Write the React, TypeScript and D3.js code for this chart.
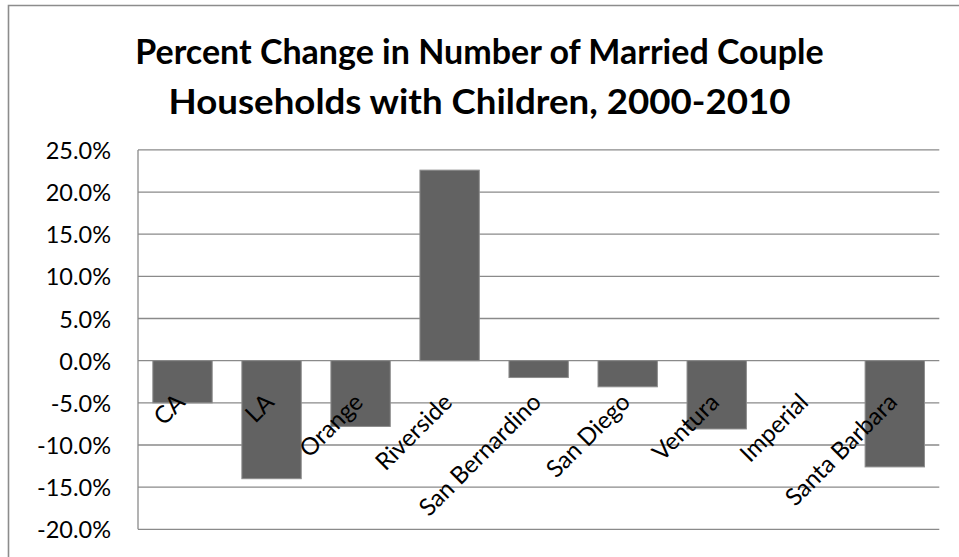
import React from "react";
import * as d3 from "d3";

const categories = ["CA", "LA", "Orange", "Riverside", "San Bernardino", "San Diego", "Ventura", "Imperial", "Santa Barbara"];
const values = [-5.0, -14.0, -7.8, 22.6, -2.0, -3.1, -8.1, 0, -12.6];
const yTicks = [-20, -15, -10, -5, 0, 5, 10, 15, 20, 25];
const titleLines = ["Percent Change in Number of Married Couple", "Households with Children, 2000-2010"];

const W = 959;
const H = 557;
const FONT = "Lato, 'Open Sans', sans-serif";

export default function App() {
  const x = d3.scaleBand<string>().domain(categories).range([138, 939.3]).paddingInner(1 / 3).paddingOuter(1 / 6);
  const y = d3.scaleLinear().domain([-20, 25]).range([529.3, 149.9]);
  const grid = "#8a8a8a";
  const fmt = (v: number) => d3.format(".1f")(v).replace("\u2212", "-") + "%";
  return (
    <svg width={W} height={H} style={{ position: "absolute", left: 0, top: 0, background: "#fff" }}>
      <rect x={0} y={0} width={W} height={H} fill="#fff" />
      <path d={`M8.5,${H + 5} V5.5 H${W + 5}`} fill="none" stroke="#8c8c8c" strokeWidth={1.6} />
      {titleLines.map((t, i) => (
        <text
          key={t}
          x={479.5}
          y={64 + i * 50}
          textAnchor="middle"
          fontFamily={FONT}
          fontWeight={700}
          fontSize={34}
          fill="#000"
          {...(i === 1 ? { textLength: 622, lengthAdjust: "spacingAndGlyphs" } : {})}
        >
          {t}
        </text>
      ))}
      {yTicks.map((v) => (
        <g key={v}>
          <line x1={138} x2={939.3} y1={y(v)} y2={y(v)} stroke={grid} strokeWidth={1.3} />
          <text x={111} y={y(v) + 9} textAnchor="end" fontFamily={FONT} fontSize={23.5} fill="#000">
            {fmt(v)}
          </text>
        </g>
      ))}
      <line x1={138} x2={138} y1={y(25)} y2={y(-20)} stroke={grid} strokeWidth={1.3} />
      {categories.map((c, i) => {
        const v = values[i];
        const y0 = y(Math.max(0, v));
        const h = Math.abs(y(v) - y(0));
        return h > 0 ? (
          <rect key={c} x={x(c)!} y={y0} width={x.bandwidth()} height={h} fill="#626262" stroke="#8c8c8c" strokeWidth={1} />
        ) : null;
      })}
      {categories.map((c) => {
        const cx = x(c)! + x.bandwidth() / 2 + 4;
        const cy = y(0) + 43;
        return (
          <text key={c} x={cx} y={cy} transform={`rotate(-45 ${cx} ${cy})`} textAnchor="end" fontFamily={FONT} fontSize={24} fill="#000">
            {c}
          </text>
        );
      })}
    </svg>
  );
}
